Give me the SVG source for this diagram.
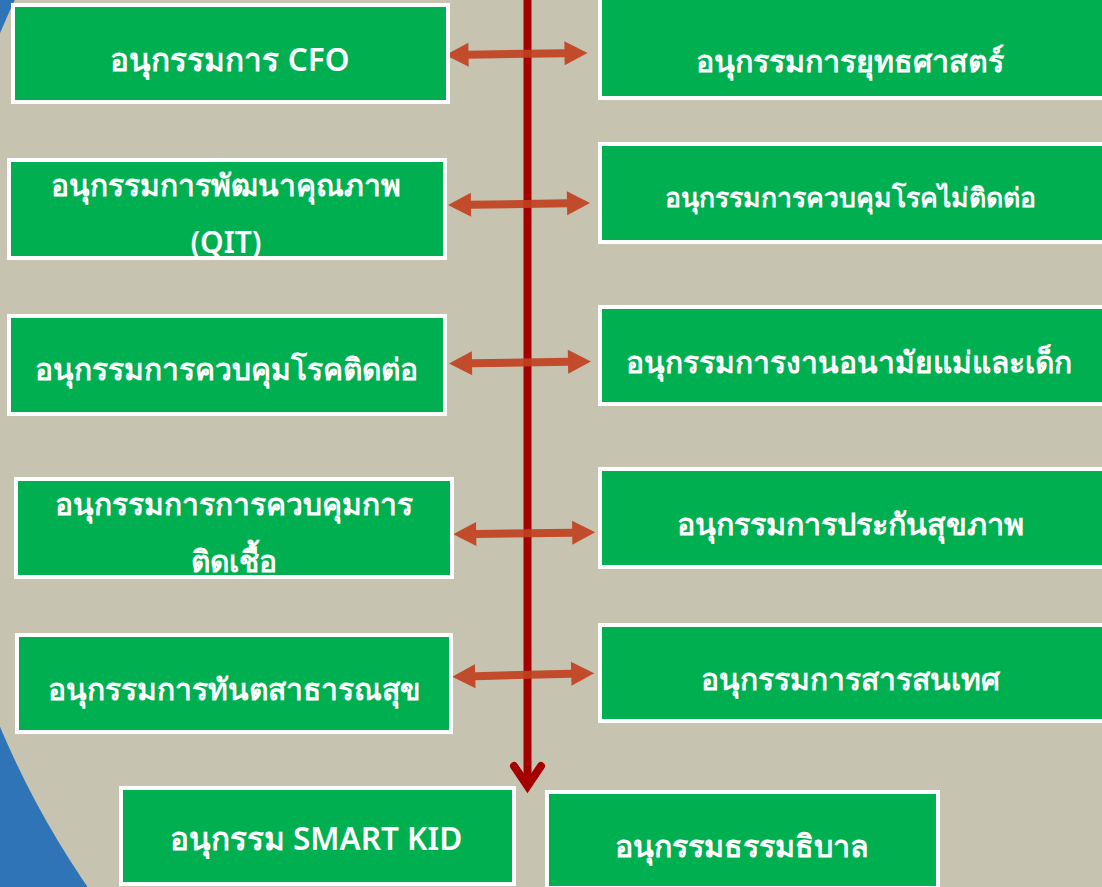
<svg xmlns="http://www.w3.org/2000/svg" width="1102" height="887" viewBox="0 0 1102 887">
  <style>
    .box { fill: #00B050; stroke: #FFFFFF; stroke-width: 4; }
    .lbl { fill: #FFFFFF; font-family: "Noto Sans", "Noto Sans CJK SC", sans-serif; font-weight: 600; text-anchor: middle; font-size: 30px; }
    .arr { fill: #C0411F; opacity: 0.92; }
    .spine { stroke: #A50000; stroke-width: 8; fill: none; }
  </style>
  <defs>
    <!-- double-headed connector, 142 px tip to tip, centred on the origin -->
    <path id="dbl" d="M-71,0 L-48,-12 L-48,-4 L48,-4 L48,-12 L71,0 L48,12 L48,4 L-48,4 L-48,12 Z"/>
    <clipPath id="clipL2"><rect x="9" y="160" width="436" height="98"/></clipPath>
    <clipPath id="clipL4"><rect x="16" y="479" width="436" height="98"/></clipPath>
  </defs>

  <!-- backdrop: blue field with a large beige disc -->
  <rect x="0" y="0" width="1102" height="887" fill="#2E74B7"/>
  <circle cx="824" cy="380" r="894" fill="#C6C3B0"/>

  <!-- spine and cross links -->
  <g id="connectors">
    <line class="spine" x1="527.5" y1="-5" x2="527.5" y2="784"/>
    <polyline class="spine" points="514,766 527.5,786 541,766" stroke-linecap="round" stroke-linejoin="miter"/>
    <use href="#dbl" class="arr" transform="translate(516.5,54) rotate(-0.8)"/>
    <use href="#dbl" class="arr" transform="translate(519,204) rotate(-0.8)"/>
    <use href="#dbl" class="arr" transform="translate(520,362.5) rotate(-0.9)"/>
    <use href="#dbl" class="arr" transform="translate(524.2,533.3) rotate(-0.8)"/>
    <use href="#dbl" class="arr" transform="translate(523.2,675) rotate(-1.4)"/>
  </g>

  <!-- left column -->
  <g id="cfo">
    <rect class="box" x="13" y="5" width="435" height="97"/>
    <text class="lbl" x="230" y="71" style="font-size:31.5px">อนุกรรมการ CFO</text>
  </g>
  <g id="qit">
    <rect class="box" x="9" y="160" width="436" height="98"/>
    <g clip-path="url(#clipL2)">
      <text class="lbl" x="226" y="196">อนุกรรมการพัฒนาคุณภาพ</text>
      <text class="lbl" x="226" y="253">(QIT)</text>
    </g>
  </g>
  <g id="communicable">
    <rect class="box" x="9" y="316" width="436" height="98"/>
    <text class="lbl" x="226" y="380">อนุกรรมการควบคุมโรคติดต่อ</text>
  </g>
  <g id="infection">
    <rect class="box" x="16" y="479" width="436" height="98"/>
    <g clip-path="url(#clipL4)">
      <text class="lbl" x="234" y="515">อนุกรรมการการควบคุมการ</text>
      <text class="lbl" x="234" y="572">ติดเชื้อ</text>
    </g>
  </g>
  <g id="dental">
    <rect class="box" x="17" y="635" width="434" height="97"/>
    <text class="lbl" x="234" y="700">อนุกรรมการทันตสาธารณสุข</text>
  </g>

  <!-- right column -->
  <g id="strategy">
    <rect class="box" x="600" y="-2" width="504" height="100"/>
    <text class="lbl" x="850" y="72" style="font-size:30.4px">อนุกรรมการยุทธศาสตร์</text>
  </g>
  <g id="ncd">
    <rect class="box" x="600" y="144" width="504" height="98"/>
    <text class="lbl" x="850" y="207" style="font-size:26.6px">อนุกรรมการควบคุมโรคไม่ติดต่อ</text>
  </g>
  <g id="mch">
    <rect class="box" x="600" y="307" width="504" height="97"/>
    <text class="lbl" x="849" y="373">อนุกรรมการงานอนามัยแม่และเด็ก</text>
  </g>
  <g id="insurance">
    <rect class="box" x="600" y="469" width="504" height="98"/>
    <text class="lbl" x="850" y="535" style="font-size:30.5px">อนุกรรมการประกันสุขภาพ</text>
  </g>
  <g id="informatics">
    <rect class="box" x="600" y="625" width="504" height="96"/>
    <text class="lbl" x="850" y="690">อนุกรรมการสารสนเทศ</text>
  </g>

  <!-- bottom row -->
  <g id="smartkid">
    <rect class="box" x="121" y="788" width="393" height="96"/>
    <text class="lbl" x="316" y="850" style="font-size:31.5px">อนุกรรม SMART KID</text>
  </g>
  <g id="governance">
    <rect class="box" x="547" y="792" width="391" height="96"/>
    <text class="lbl" x="742" y="857" style="font-size:30.4px">อนุกรรมธรรมธิบาล</text>
  </g>
</svg>
